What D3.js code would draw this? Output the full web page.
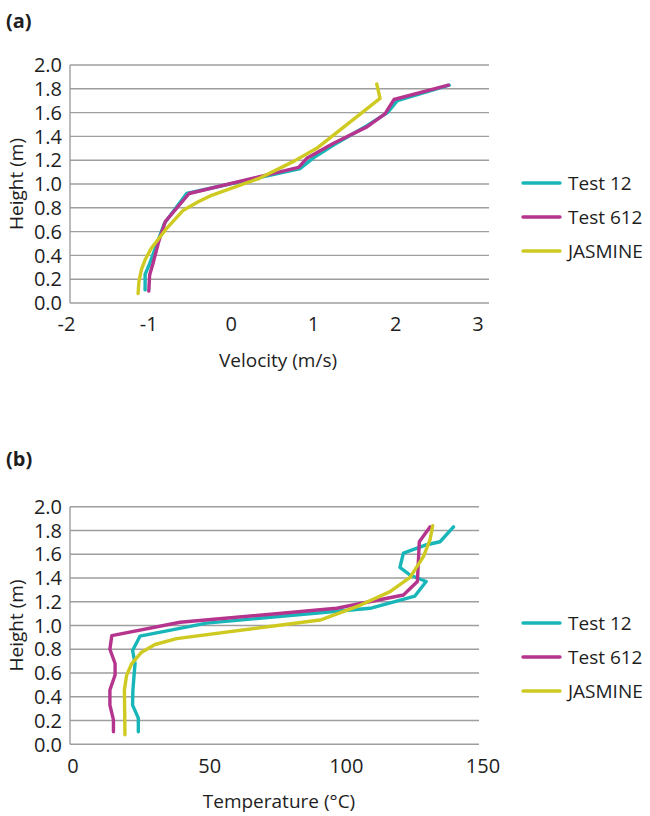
<!DOCTYPE html>
<html>
<head>
<meta charset="utf-8">
<script src="https://cdn.jsdelivr.net/npm/d3@7"></script>
<style>
  body { margin: 0; background: #fff; }
  text { font-family: "Open Sans", "Noto Sans", sans-serif; fill: #1e1e1e; }
</style>
</head>
<body>
<div id="chart"></div>
<script>
// Series names and colours
const seriesNames = ['Test 12', 'Test 612', 'JASMINE'];
const seriesColors = ['#18b6b8', '#b5348e', '#cfca22'];

// Height ticks shared by both panels
const heightTicks = [0, 0.2, 0.4, 0.6, 0.8, 1.0, 1.2, 1.4, 1.6, 1.8, 2.0];

// Panel (a): velocity profiles, [velocity m/s, height m]
const velocityTicks = [-2, -1, 0, 1, 2, 3];
const velTest12 = [[-1.045, 0.11], [-1.045, 0.24], [-0.99, 0.33], [-0.89, 0.52], [-0.81, 0.67], [-0.54, 0.92],
  [0.84, 1.13], [1.0, 1.22], [1.25, 1.33], [1.65, 1.49], [1.9, 1.6], [2.02, 1.7], [2.65, 1.83]];
const velTest612 = [[-1.0, 0.1], [-0.99, 0.235], [-0.95, 0.33], [-0.88, 0.515], [-0.8, 0.683], [-0.51, 0.92],
  [0.82, 1.14], [0.92, 1.216], [1.24, 1.34], [1.65, 1.48], [1.87, 1.59], [1.98, 1.71], [2.64, 1.83]];
const velJasmine = [[-1.13, 0.08], [-1.12, 0.18], [-1.09, 0.28], [-1.04, 0.37], [-0.97, 0.46], [-0.88, 0.54],
  [-0.78, 0.63], [-0.58, 0.78], [-0.4, 0.85], [-0.255, 0.9], [0.35, 1.05], [0.76, 1.19], [1.04, 1.3],
  [1.81, 1.72], [1.77, 1.84]];

// Panel (b): temperature profiles, [temperature °C, height m]
const temperatureTicks = [0, 50, 100, 150];
const tempTest12 = [[23.9, 0.106], [23.9, 0.22], [21.8, 0.33], [21.9, 0.45], [22.3, 0.57], [22.7, 0.68], [21.8, 0.79],
  [24.5, 0.91], [48.9, 1.02], [108.7, 1.145], [125.1, 1.248], [129.2, 1.37], [123.3, 1.425], [119.6, 1.49],
  [120.9, 1.61], [129.4, 1.68], [134.3, 1.705], [139.2, 1.83]];
const tempTest612 = [[14.8, 0.106], [14.8, 0.205], [13.5, 0.33], [13.5, 0.457], [15.4, 0.583], [15.4, 0.68],
  [13.5, 0.8], [14.2, 0.915], [39.2, 1.027], [96.5, 1.145], [120.9, 1.257], [126, 1.37], [126.7, 1.705],
  [130.6, 1.83]];
const tempJasmine = [[19.0, 0.08], [18.9, 0.3], [18.8, 0.457], [19.6, 0.58], [21.5, 0.68], [25.1, 0.775],
  [30, 0.84], [37.9, 0.89], [90.4, 1.046], [105, 1.17], [116, 1.285], [123.3, 1.405], [128.2, 1.58],
  [130.6, 1.72], [131.6, 1.84]];

const W = 650, H = 816;
const svg = d3.select('#chart').append('svg')
  .attr('width', W)
  .attr('height', H);

svg.append('rect').attr('width', W).attr('height', H).attr('fill', '#fff');

function drawPanel(opt) {
  const g = svg.append('g');

  const x = d3.scaleLinear().domain(opt.xDomain).range(opt.xRange);
  const y = d3.scaleLinear().domain([0, 2]).range([opt.bottom, opt.top]);

  // panel letter
  g.append('text')
    .attr('x', 6)
    .attr('y', opt.letterY)
    .style('font-size', '20px')
    .style('font-weight', 'bold')
    .text(opt.letter);

  // horizontal gridlines
  g.selectAll('.grid')
    .data(heightTicks)
    .enter()
    .append('line')
    .attr('x1', opt.plotLeft)
    .attr('x2', opt.plotRight)
    .attr('y1', d => y(d))
    .attr('y2', d => y(d))
    .attr('stroke', '#9e9e9e')
    .attr('stroke-width', 1.4);

  // left axis line
  g.append('line')
    .attr('x1', opt.plotLeft).attr('x2', opt.plotLeft)
    .attr('y1', y(2)).attr('y2', y(0))
    .attr('stroke', '#9e9e9e')
    .attr('stroke-width', 1.4);

  // y tick labels
  g.selectAll('.ytick')
    .data(heightTicks)
    .enter()
    .append('text')
    .attr('x', opt.plotLeft - 8)
    .attr('y', d => y(d))
    .attr('dy', '0.36em')
    .attr('text-anchor', 'end')
    .style('font-size', '20px')
    .text(d => d.toFixed(1));

  // x tick labels
  g.selectAll('.xtick')
    .data(opt.xTicks)
    .enter()
    .append('text')
    .attr('x', d => x(d))
    .attr('y', opt.bottom + 21)
    .attr('dy', '0.36em')
    .attr('text-anchor', 'middle')
    .style('font-size', '20px')
    .text(d => d);

  // axis titles
  g.append('text')
    .attr('transform', `translate(16, ${(opt.top + opt.bottom) / 2}) rotate(-90)`)
    .attr('dy', '0.36em')
    .attr('text-anchor', 'middle')
    .style('font-size', '19px')
    .text('Height (m)');

  g.append('text')
    .attr('x', opt.xTitleX)
    .attr('y', opt.bottom + 57)
    .attr('dy', '0.36em')
    .attr('text-anchor', 'middle')
    .style('font-size', '19px')
    .text(opt.xTitle);

  // series
  const line = d3.line()
    .x(d => x(d[0]))
    .y(d => y(d[1]));

  opt.series.forEach((s, i) => {
    g.append('path')
      .datum(s)
      .attr('d', line)
      .attr('fill', 'none')
      .attr('stroke', seriesColors[i])
      .attr('stroke-width', 3.4)
      .attr('stroke-linejoin', 'round')
      .attr('stroke-linecap', 'round');
  });

  // legend
  const legend = g.append('g')
    .attr('transform', `translate(523, ${opt.legendY})`);

  const items = legend.selectAll('.legend-item')
    .data(seriesNames)
    .enter()
    .append('g')
    .attr('transform', (d, i) => `translate(0, ${i * 34})`);

  items.append('line')
    .attr('x1', 0).attr('x2', 37)
    .attr('stroke', (d, i) => seriesColors[i])
    .attr('stroke-width', 3.4)
    .attr('stroke-linecap', 'round');

  items.append('text')
    .attr('x', 45)
    .attr('dy', '0.36em')
    .style('font-size', '19px')
    .text(d => d);
}

drawPanel({
  letter: '(a)', letterY: 28,
  top: 65, bottom: 303, plotLeft: 70, plotRight: 489,
  xDomain: [-2, 3], xRange: [66.5, 478],
  xTicks: velocityTicks, xTitle: 'Velocity (m/s)', xTitleX: 278,
  series: [velTest12, velTest612, velJasmine],
  legendY: 183
});

drawPanel({
  letter: '(b)', letterY: 466,
  top: 506.7, bottom: 744.3, plotLeft: 70, plotRight: 479,
  xDomain: [0, 150], xRange: [73, 483],
  xTicks: temperatureTicks, xTitle: 'Temperature (°C)', xTitleX: 279,
  series: [tempTest12, tempTest612, tempJasmine],
  legendY: 623
});
</script>
</body>
</html>
